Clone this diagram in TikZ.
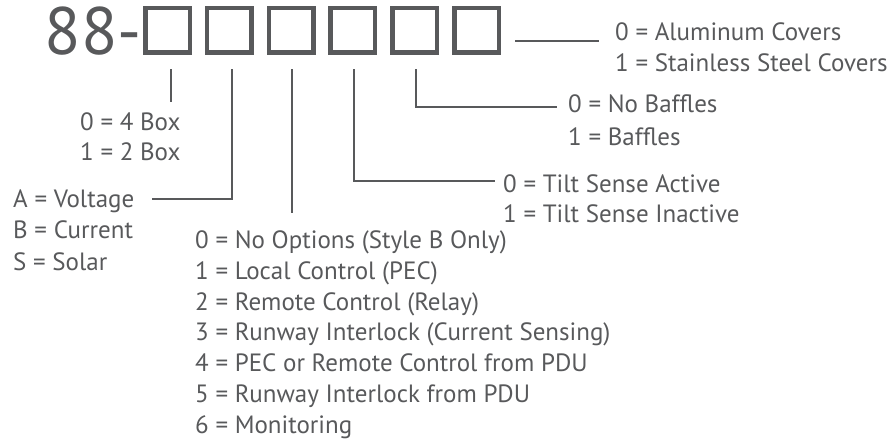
\documentclass[tikz,border=0pt]{standalone}
\usepackage{fontspec}
\setmainfont{PT Sans}
\definecolor{ink}{HTML}{58595B}
\begin{document}
\begin{tikzpicture}[x=1pt,y=-1pt,
  box/.style={draw=ink, line width=4.5pt, minimum size=44.5pt, inner sep=0pt},
  lbl/.style={anchor=base west, inner sep=0pt, text=ink, font=\fontsize{25}{30}\selectfont},
  conn/.style={draw=ink, line width=2pt}]
\useasboundingbox (0,0) rectangle (889,444);
\node[anchor=base east, inner sep=0pt, text=ink, font=\fontsize{67}{72}\selectfont] (pre) at (142,55) {88-};
\foreach \i in {1,...,6} \node[box] (b\i) at ({167.5+61.8*(\i-1)},30.5) {};
% labels
\node[lbl] (c0) at (615,40.5) {0 = Aluminum Covers};
\node[lbl] (c1) at (615,71.5) {1 = Stainless Steel Covers};
\node[lbl] (f0) at (568,112.5) {0 = No Baffles};
\node[lbl] (f1) at (568,145) {1 = Baffles};
\node[lbl] (t0) at (503,192.5) {0 = Tilt Sense Active};
\node[lbl] (t1) at (503,222.5) {1 = Tilt Sense Inactive};
\node[lbl] (x0) at (80,130.5) {0 = 4 Box};
\node[lbl] (x1) at (80,160.5) {1 = 2 Box};
\node[lbl] (v0) at (13,207.5) {A = Voltage};
\node[lbl] (v1) at (13,238.5) {B = Current};
\node[lbl] (v2) at (13,270.5) {S = Solar};
\node[lbl] (o0) at (195,248.5) {0 = No Options (Style B Only)};
\node[lbl] (o1) at (195,279.3) {1 = Local Control (PEC)};
\node[lbl] (o2) at (195,310.1) {2 = Remote Control (Relay)};
\node[lbl] (o3) at (195,340.9) {3 = Runway Interlock (Current Sensing)};
\node[lbl] (o4) at (195,371.7) {4 = PEC or Remote Control from PDU};
\node[lbl] (o5) at (195,402.5) {5 = Runway Interlock from PDU};
\node[lbl] (o6) at (195,433.3) {6 = Monitoring};
% connector end points
\coordinate (k6) at (515,41);
\coordinate (e6) at (599,41);
\coordinate (e5) at (557,107);
\coordinate (e4) at (495,181);
\coordinate (e2) at (152,199);
% connectors
\draw[conn] (k6) -- (e6);
\draw[conn] ([xshift=1.5pt,yshift=-14.25pt]b5.south) |- (e5);
\draw[conn] ([xshift=1.5pt,yshift=-14.25pt]b4.south) |- (e4);
\draw[conn] ([xshift=1pt,yshift=-14.25pt]b3.south) -- ++(0,144);
\draw[conn] ([xshift=2.5pt,yshift=-14.25pt]b2.south) |- (e2);
\draw[conn] ([xshift=3pt,yshift=-14.25pt]b1.south) -- ++(0,33);
\end{tikzpicture}
\end{document}
